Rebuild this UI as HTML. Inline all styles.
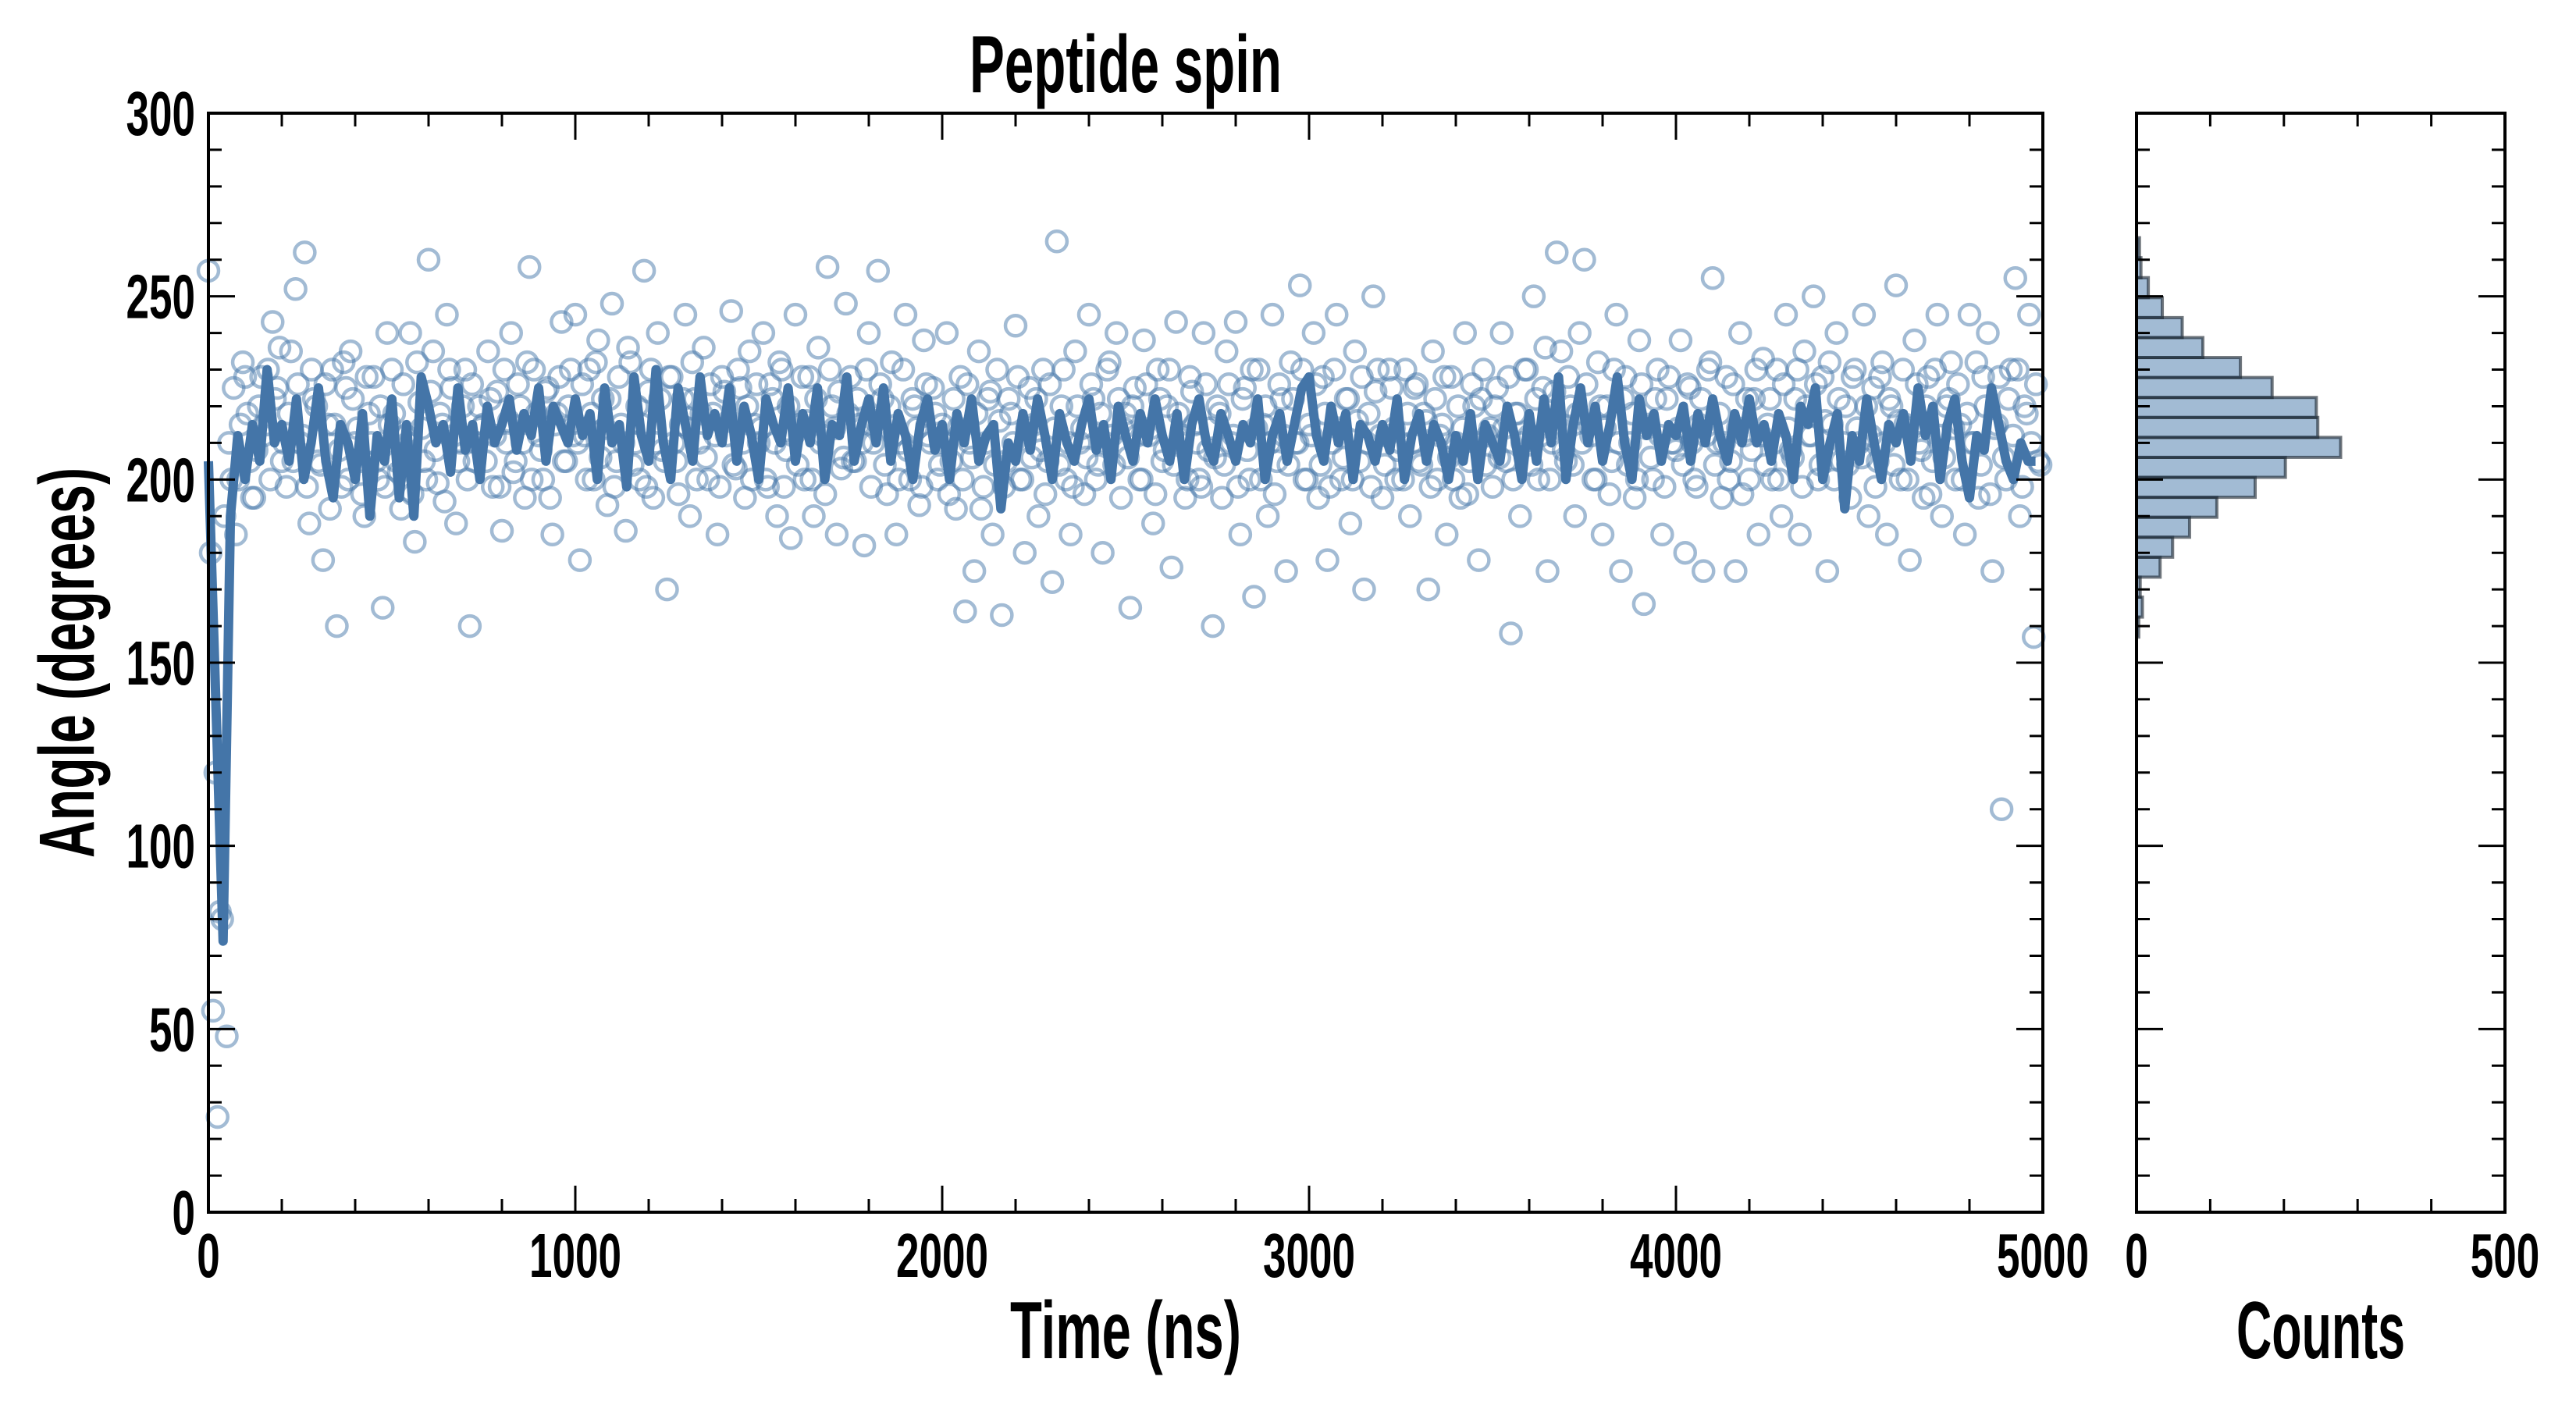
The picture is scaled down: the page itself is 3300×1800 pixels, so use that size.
<!DOCTYPE html>
<html><head><meta charset="utf-8"><style>
html,body{margin:0;padding:0;background:#fff;}
svg{display:block;}
text{font-family:"Liberation Sans Narrow","Liberation Sans",sans-serif;font-weight:bold;fill:#000;}
</style></head><body>
<svg id="chart" width="3300" height="1800" viewBox="0 0 3300 1800" xmlns="http://www.w3.org/2000/svg">
<text x="1442" y="118" font-size="104" text-anchor="middle" textLength="400" lengthAdjust="spacingAndGlyphs">Peptide spin</text>
<text x="1442" y="1740" font-size="104" text-anchor="middle" textLength="296" lengthAdjust="spacingAndGlyphs">Time (ns)</text>
<text x="2973" y="1740" font-size="104" text-anchor="middle" textLength="216" lengthAdjust="spacingAndGlyphs">Counts</text>
<text transform="translate(120,849) rotate(-90)" x="0" y="0" font-size="100" text-anchor="middle" textLength="500" lengthAdjust="spacingAndGlyphs">Angle (degrees)</text>
<g id="main"></g>
<g id="hist"></g>
</svg>
<script>
const scatterDt = 12.5;
const scatterAngles = [
257,55,26,80,48,200,185,215,228,205,195,220,212,230,243,225,205,198,235,252,
210,262,188,222,205,178,215,230,160,198,225,235,210,205,190,218,228,200,165,240,
230,205,192,212,240,183,221,205,260,235,199,215,245,225,188,210,230,160,205,220,
215,235,198,224,186,210,240,205,220,195,258,230,212,200,225,185,218,243,205,230,
245,178,212,230,200,238,222,193,248,205,215,186,232,210,200,257,224,195,240,208,
170,228,205,215,245,190,222,210,236,200,218,185,228,212,246,203,225,195,235,215,
210,240,198,222,190,230,208,184,245,215,200,228,190,236,212,258,220,185,203,248,
228,205,215,182,240,210,257,222,196,232,185,210,245,200,220,193,238,212,225,200,
215,240,205,192,228,164,210,175,235,198,222,185,230,163,205,218,242,200,180,225,
215,190,230,205,172,265,220,200,185,235,210,196,245,222,204,180,230,212,240,195,
218,165,225,200,238,212,188,230,205,220,176,243,210,195,228,215,200,240,208,160,
220,195,235,210,243,185,225,200,168,230,215,190,245,205,222,175,232,210,253,200,
215,240,195,228,178,210,245,200,222,188,235,205,170,218,250,230,195,212,225,200,
210,230,190,225,205,218,170,235,200,215,185,228,210,195,240,205,220,178,230,212,
198,225,240,205,158,218,190,230,212,250,200,225,175,210,262,235,205,220,190,240,
260,215,200,232,185,220,205,245,175,228,210,195,238,166,215,200,230,185,222,210,
208,238,180,225,200,215,175,230,255,210,195,228,205,175,240,212,200,222,185,233,
215,200,230,190,245,208,222,185,235,212,250,200,228,175,215,240,205,220,195,230,
210,245,190,225,205,232,185,220,253,200,215,178,238,210,195,228,205,245,190,220,
232,200,215,185,245,210,195,228,240,175,215,110,200,230,255,190,220,245,157,205];
const scatterAngles2 = [
180,120,82,190,210,225,200,232,218,195,208,228,215,200,222,236,210,218,205,226,
212,198,230,220,204,226,192,215,208,232,200,222,214,196,228,210,205,220,198,215,
218,202,226,210,196,232,214,200,224,208,218,194,230,212,205,220,200,226,210,214,
205,222,212,198,230,216,202,226,210,232,200,218,208,224,195,215,228,205,220,212,
210,226,200,218,232,206,214,222,198,228,210,236,204,220,215,198,230,210,222,205,
228,210,196,222,214,232,200,218,206,226,212,198,224,216,204,230,210,220,200,226,
214,200,226,210,232,198,220,212,204,228,216,200,222,210,196,230,214,224,206,218,
205,222,210,230,198,216,226,204,220,212,200,230,208,222,214,198,226,210,218,204,
210,196,222,214,200,226,206,218,192,210,224,204,216,198,222,210,228,200,214,206,
222,208,196,226,214,204,230,210,198,220,214,206,226,200,218,210,232,204,222,214,
206,220,212,200,226,214,196,222,208,230,204,218,212,200,224,210,198,226,214,206,
218,204,226,212,198,222,208,230,214,200,220,210,196,226,212,204,222,210,230,200,
212,226,204,218,198,230,214,206,222,200,216,228,210,198,224,212,204,230,214,208,
200,218,210,226,204,216,198,222,212,228,206,200,220,214,196,226,210,222,204,214,
220,206,214,228,200,218,210,230,204,222,212,236,200,224,214,208,228,204,218,210,
226,212,200,220,214,196,230,210,222,204,218,200,226,214,206,222,212,198,228,210,
214,204,226,210,198,222,212,232,204,218,210,200,226,214,196,222,208,230,212,204,
222,210,200,226,214,206,230,198,220,212,226,204,216,232,200,222,210,204,228,214,
206,220,212,198,228,210,222,204,216,230,200,214,226,208,220,196,230,212,206,222,
214,226,200,218,210,232,204,220,196,214,228,206,222,212,230,198,218,210,226,204];
const lineDt = 20;
const lineAngles = [
205,140,74,190,212,200,215,205,230,210,
215,205,222,200,210,225,205,195,215,210,
200,218,190,212,205,222,195,215,190,228,
220,210,215,202,225,208,215,200,220,210,
215,222,208,218,212,225,205,220,215,210,
222,212,218,200,225,210,215,198,228,212,
205,230,210,200,225,215,205,228,212,218,
210,225,205,220,212,200,222,215,210,225,
205,218,210,225,200,215,212,228,205,215,
222,210,225,205,218,212,200,215,222,208,
215,200,218,210,222,205,212,215,192,210,
205,218,208,222,212,200,218,210,205,215,
222,208,215,200,220,212,205,218,210,222,
212,205,218,200,215,222,210,205,218,212,
205,215,210,222,200,212,218,205,215,225,
228,212,205,220,210,218,200,215,212,205,
215,208,222,200,212,218,205,215,210,200,
212,205,218,200,215,210,205,220,212,200,
218,205,222,210,228,200,215,225,210,220,
205,215,228,210,200,222,212,218,205,215,
212,220,205,218,210,222,212,205,218,210,
222,210,215,205,218,212,200,220,215,225,
200,210,218,192,212,205,222,210,200,215,
210,218,205,225,212,220,200,215,222,205,
195,212,208,225,215,205,200,210,205,205];
const histBinStart = 157;
const histBinWidth = 5.45;
const histCounts = [3,8,5,32,49,72,109,161,202,277,246,244,184,141,90,62,35,16,6,4];
const xTickLabels = ["0","1000","2000","3000","4000","5000"];
const yTickLabels = ["0","50","100","150","200","250","300"];
const histTickLabels = ["0","500"];

const NS = "http://www.w3.org/2000/svg";
const L = 267, R = 2617, T = 145, B = 1553, HL = 2737, HR = 3209;
const xs = t => L + (t / 5000) * (R - L);
const ys = a => B - (a / 300) * (B - T);
const hx = c => HL + (c / 500) * (HR - HL);
function mk(tag, attrs, parent) {
  const e = document.createElementNS(NS, tag);
  for (const k in attrs) e.setAttribute(k, attrs[k]);
  parent.appendChild(e);
  return e;
}
const main = document.getElementById('main');
const hist = document.getElementById('hist');

const sg = mk('g', {}, main);


function drawScatter(arr, offset) {
  arr.forEach((a, i) => {
    const c = mk('circle', {cx: xs(Math.min(offset + i * scatterDt, 5000)), cy: ys(a), r: 13, fill: 'none', stroke: 'rgba(70,120,170,0.5)', 'stroke-width': 4.5}, sg);
    
    
  });
}
drawScatter(scatterAngles, 0);
drawScatter(scatterAngles2, scatterDt / 2);

const pts = lineAngles.map((a, i) => xs(Math.min(i * lineDt, 5000)).toFixed(1) + ',' + ys(a).toFixed(1)).join(' ');
const pl = mk('polyline', {points: pts, fill: 'none', stroke: '#4475a8', 'stroke-width': 12, 'stroke-linejoin': 'round'}, main);



histCounts.forEach((c, i) => {
  const a0 = histBinStart + i * histBinWidth, a1 = a0 + histBinWidth;
  const r = mk('rect', {x: HL, y: ys(a1), width: hx(c) - HL, height: ys(a0) - ys(a1), fill: 'rgba(70,120,170,0.5)', stroke: 'rgba(20,30,40,0.6)', 'stroke-width': 4}, hist);
  
  
});

function frame(x0, x1, parent) {
  const f = mk('rect', {x: x0, y: T, width: x1 - x0, height: B - T, fill: 'none', stroke: '#000', 'stroke-width': 4}, parent);
  
  
  for (let a = 0; a <= 300; a += 10) {
    const len = a % 50 === 0 ? 34 : 17;
    const y = ys(a);
    mk('line', {x1: x0, x2: x0 + len, y1: y, y2: y, stroke: '#000', 'stroke-width': 3}, parent);
    mk('line', {x1: x1, x2: x1 - len, y1: y, y2: y, stroke: '#000', 'stroke-width': 3}, parent);
  }
}
frame(L, R, main);
frame(HL, HR, hist);
for (let t = 0; t <= 5000; t += 200) {
  const len = t % 1000 === 0 ? 34 : 17, x = xs(t);
  mk('line', {x1: x, x2: x, y1: B, y2: B - len, stroke: '#000', 'stroke-width': 3}, main);
  mk('line', {x1: x, x2: x, y1: T, y2: T + len, stroke: '#000', 'stroke-width': 3}, main);
}
for (let c = 0; c <= 500; c += 100) {
  const len = c % 500 === 0 ? 34 : 17, x = hx(c);
  mk('line', {x1: x, x2: x, y1: B, y2: B - len, stroke: '#000', 'stroke-width': 3}, hist);
  mk('line', {x1: x, x2: x, y1: T, y2: T + len, stroke: '#000', 'stroke-width': 3}, hist);
}
xTickLabels.forEach((s, i) => {
  const t = mk('text', {x: xs(i * 1000), y: 1636, 'font-size': 80, 'text-anchor': 'middle', textLength: s.length * 29.5, lengthAdjust: 'spacingAndGlyphs'}, main);
  t.textContent = s;
  
  
});
yTickLabels.forEach((s, i) => {
  const t = mk('text', {x: 250, y: ys(i * 50) + 28, 'font-size': 80, 'text-anchor': 'end', textLength: s.length * 29.5, lengthAdjust: 'spacingAndGlyphs'}, main);
  t.textContent = s;
  
  
});
histTickLabels.forEach((s, i) => {
  const t = mk('text', {x: hx(i * 500), y: 1636, 'font-size': 80, 'text-anchor': 'middle', textLength: s.length * 29.5, lengthAdjust: 'spacingAndGlyphs'}, hist);
  t.textContent = s;
  
  
});
</script>
</body></html>
